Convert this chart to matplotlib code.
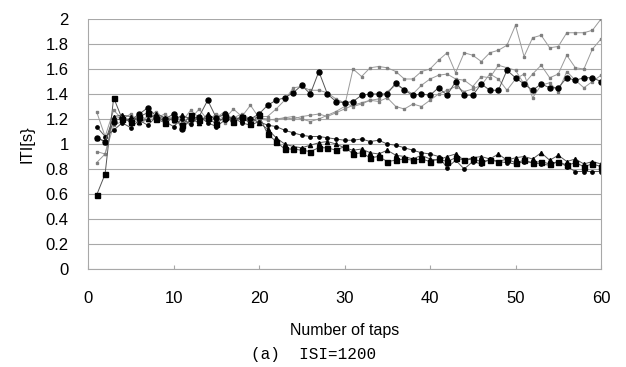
import numpy as np
import matplotlib
matplotlib.use('Agg')
import matplotlib.pyplot as plt

plt.rcParams['font.family'] = ['Liberation Sans', 'DejaVu Sans']

taps = np.arange(1, 61)

# black squares, falls to ~0.85
iti_sq = [0.59, 0.76, 1.37,
          1.20, 1.18, 1.22, 1.25, 1.20, 1.17, 1.21, 1.15, 1.23, 1.19, 1.21, 1.16, 1.22, 1.18, 1.22, 1.16, 1.23,
          1.08, 1.02, 0.96, 0.96, 0.95, 0.94, 0.97, 0.97, 0.95, 0.98,
          0.92, 0.93, 0.89, 0.90, 0.86, 0.87, 0.88, 0.87, 0.88, 0.86,
          0.88, 0.86, 0.89, 0.87, 0.88, 0.86, 0.87, 0.86, 0.88, 0.85,
          0.87, 0.85, 0.86, 0.84, 0.86, 0.83, 0.85, 0.82, 0.84, 0.82]

# small black dots, slow fall to 0.78
iti_dot = [1.14, 1.06, 1.11,
           1.17, 1.13, 1.19, 1.15, 1.22, 1.18, 1.14, 1.20, 1.16, 1.22, 1.17, 1.14, 1.19, 1.21, 1.17, 1.15, 1.18,
           1.15, 1.14, 1.11, 1.09, 1.07, 1.06, 1.06, 1.05, 1.04, 1.03,
           1.03, 1.04, 1.02, 1.03, 1.00, 0.99, 0.97, 0.95, 0.93, 0.92,
           0.90, 0.81, 0.87, 0.80, 0.86, 0.84, 0.88, 0.86, 0.85, 0.84,
           0.86, 0.85, 0.84, 0.83, 0.86, 0.82, 0.78, 0.78, 0.78, 0.78]

# black triangles
iti_tri = [1.05, 1.02, 1.22,
           1.23, 1.22, 1.18, 1.20, 1.24, 1.21, 1.19, 1.23, 1.20, 1.17, 1.24, 1.19, 1.20, 1.22, 1.19, 1.21, 1.17,
           1.12, 1.05, 1.00, 0.98, 0.97, 0.99, 1.01, 1.02, 1.00, 0.97,
           0.95, 0.96, 0.93, 0.92, 0.95, 0.91, 0.90, 0.88, 0.91, 0.88,
           0.87, 0.90, 0.92, 0.87, 0.89, 0.90, 0.88, 0.92, 0.87, 0.89,
           0.90, 0.88, 0.93, 0.87, 0.91, 0.86, 0.88, 0.84, 0.86, 0.84]

# big black dots, rises to ~1.5
iti_circ = [1.05, 1.02, 1.18,
            1.21, 1.19, 1.24, 1.29, 1.22, 1.20, 1.24, 1.12, 1.20, 1.22, 1.35, 1.21, 1.24, 1.19, 1.22, 1.20, 1.24,
            1.31, 1.35, 1.37, 1.41, 1.47, 1.40, 1.58, 1.40, 1.34, 1.33,
            1.34, 1.39, 1.40, 1.40, 1.40, 1.49, 1.43, 1.39, 1.40, 1.39,
            1.45, 1.39, 1.50, 1.39, 1.39, 1.48, 1.43, 1.43, 1.59, 1.53,
            1.48, 1.43, 1.48, 1.45, 1.45, 1.53, 1.51, 1.53, 1.53, 1.50]

# gray series
iti_g1 = [1.26, 1.06, 1.27,
          1.20, 1.24, 1.18, 1.22, 1.26, 1.19, 1.22, 1.18, 1.27, 1.21, 1.19, 1.24, 1.20, 1.28, 1.22, 1.31, 1.21,
          1.20, 1.19, 1.21, 1.22, 1.20, 1.18, 1.20, 1.23, 1.26, 1.30,
          1.60, 1.54, 1.61, 1.62, 1.61, 1.58, 1.52, 1.52, 1.58, 1.60,
          1.67, 1.73, 1.57, 1.73, 1.71, 1.66, 1.73, 1.75, 1.79, 1.95,
          1.70, 1.85, 1.87, 1.77, 1.78, 1.89, 1.89, 1.89, 1.91, 2.00]

iti_g2 = [0.94, 0.92, 1.20,
          1.22, 1.17, 1.23, 1.19, 1.21, 1.24, 1.18, 1.22, 1.20, 1.28, 1.19, 1.23, 1.17, 1.21, 1.24, 1.20, 1.22,
          1.22, 1.28, 1.35, 1.45, 1.46, 1.43, 1.43, 1.41, 1.36, 1.33,
          1.30, 1.32, 1.35, 1.36, 1.42, 1.47, 1.44, 1.40, 1.47, 1.52,
          1.55, 1.56, 1.52, 1.51, 1.46, 1.54, 1.53, 1.63, 1.61, 1.59,
          1.48, 1.56, 1.63, 1.53, 1.56, 1.71, 1.61, 1.60, 1.76, 1.84]

iti_g3 = [0.85, 0.92, 1.15,
          1.18, 1.21, 1.16, 1.20, 1.23, 1.17, 1.21, 1.19, 1.15, 1.22, 1.18, 1.21, 1.26, 1.19, 1.21, 1.17, 1.20,
          1.19, 1.20, 1.21, 1.20, 1.22, 1.23, 1.24, 1.22, 1.25, 1.28,
          1.31, 1.33, 1.35, 1.34, 1.37, 1.30, 1.28, 1.32, 1.30, 1.35,
          1.40, 1.43, 1.46, 1.42, 1.44, 1.47, 1.56, 1.52, 1.43, 1.52,
          1.56, 1.37, 1.47, 1.49, 1.42, 1.58, 1.51, 1.45, 1.50, 1.55]

fig = plt.figure(figsize=(6.26, 3.67), dpi=100)
ax = fig.add_axes([88/626, 1-269/367, (601-88)/626, 250/367])

for s in [iti_g1, iti_g2, iti_g3]:
    ax.plot(taps, s, c='#9a9a9a', lw=0.7, marker='s', ms=1.8, mfc='#808080', mec='#808080')

ax.plot(taps, iti_dot, c='#555555', lw=0.7, marker='o', ms=2.4, mfc='k', mec='k')
ax.plot(taps, iti_tri, c='#555555', lw=0.7, marker='^', ms=3, mfc='k', mec='k')
ax.plot(taps, iti_circ, c='#555555', lw=0.7, marker='o', ms=3.6, mfc='k', mec='k')
ax.plot(taps, iti_sq, c='#555555', lw=0.7, marker='s', ms=3.6, mfc='k', mec='k')

ax.set_xlim(0, 60)
ax.set_ylim(0, 2)
ax.set_xticks(range(0, 61, 10))
ax.set_yticks(np.arange(0, 2.01, 0.2))
ax.set_yticklabels(['0', '0.2', '0.4', '0.6', '0.8', '1', '1.2', '1.4', '1.6', '1.8', '2'])
ax.grid(axis='y', color='#a8a8a8', lw=0.8)
ax.set_axisbelow(True)
for sp in ax.spines.values():
    sp.set_color('#a8a8a8')
    sp.set_linewidth(0.8)
ax.spines['top'].set_visible(False)
ax.tick_params(axis='y', length=0, pad=14, labelsize=12)
ax.tick_params(axis='x', direction='in', length=3, color='#a8a8a8', pad=16, labelsize=12)

ax.set_ylabel('ITI[s}', fontsize=12, labelpad=8)
ax.set_xlabel('Number of taps', fontsize=11.5, labelpad=12)
fig.text(314/626, 1-355/367, '(a)  ISI=1200', family=['Liberation Mono', 'DejaVu Sans Mono'],
         fontsize=11.5, ha='center', va='center')

fig.savefig('out.png', dpi=100)
